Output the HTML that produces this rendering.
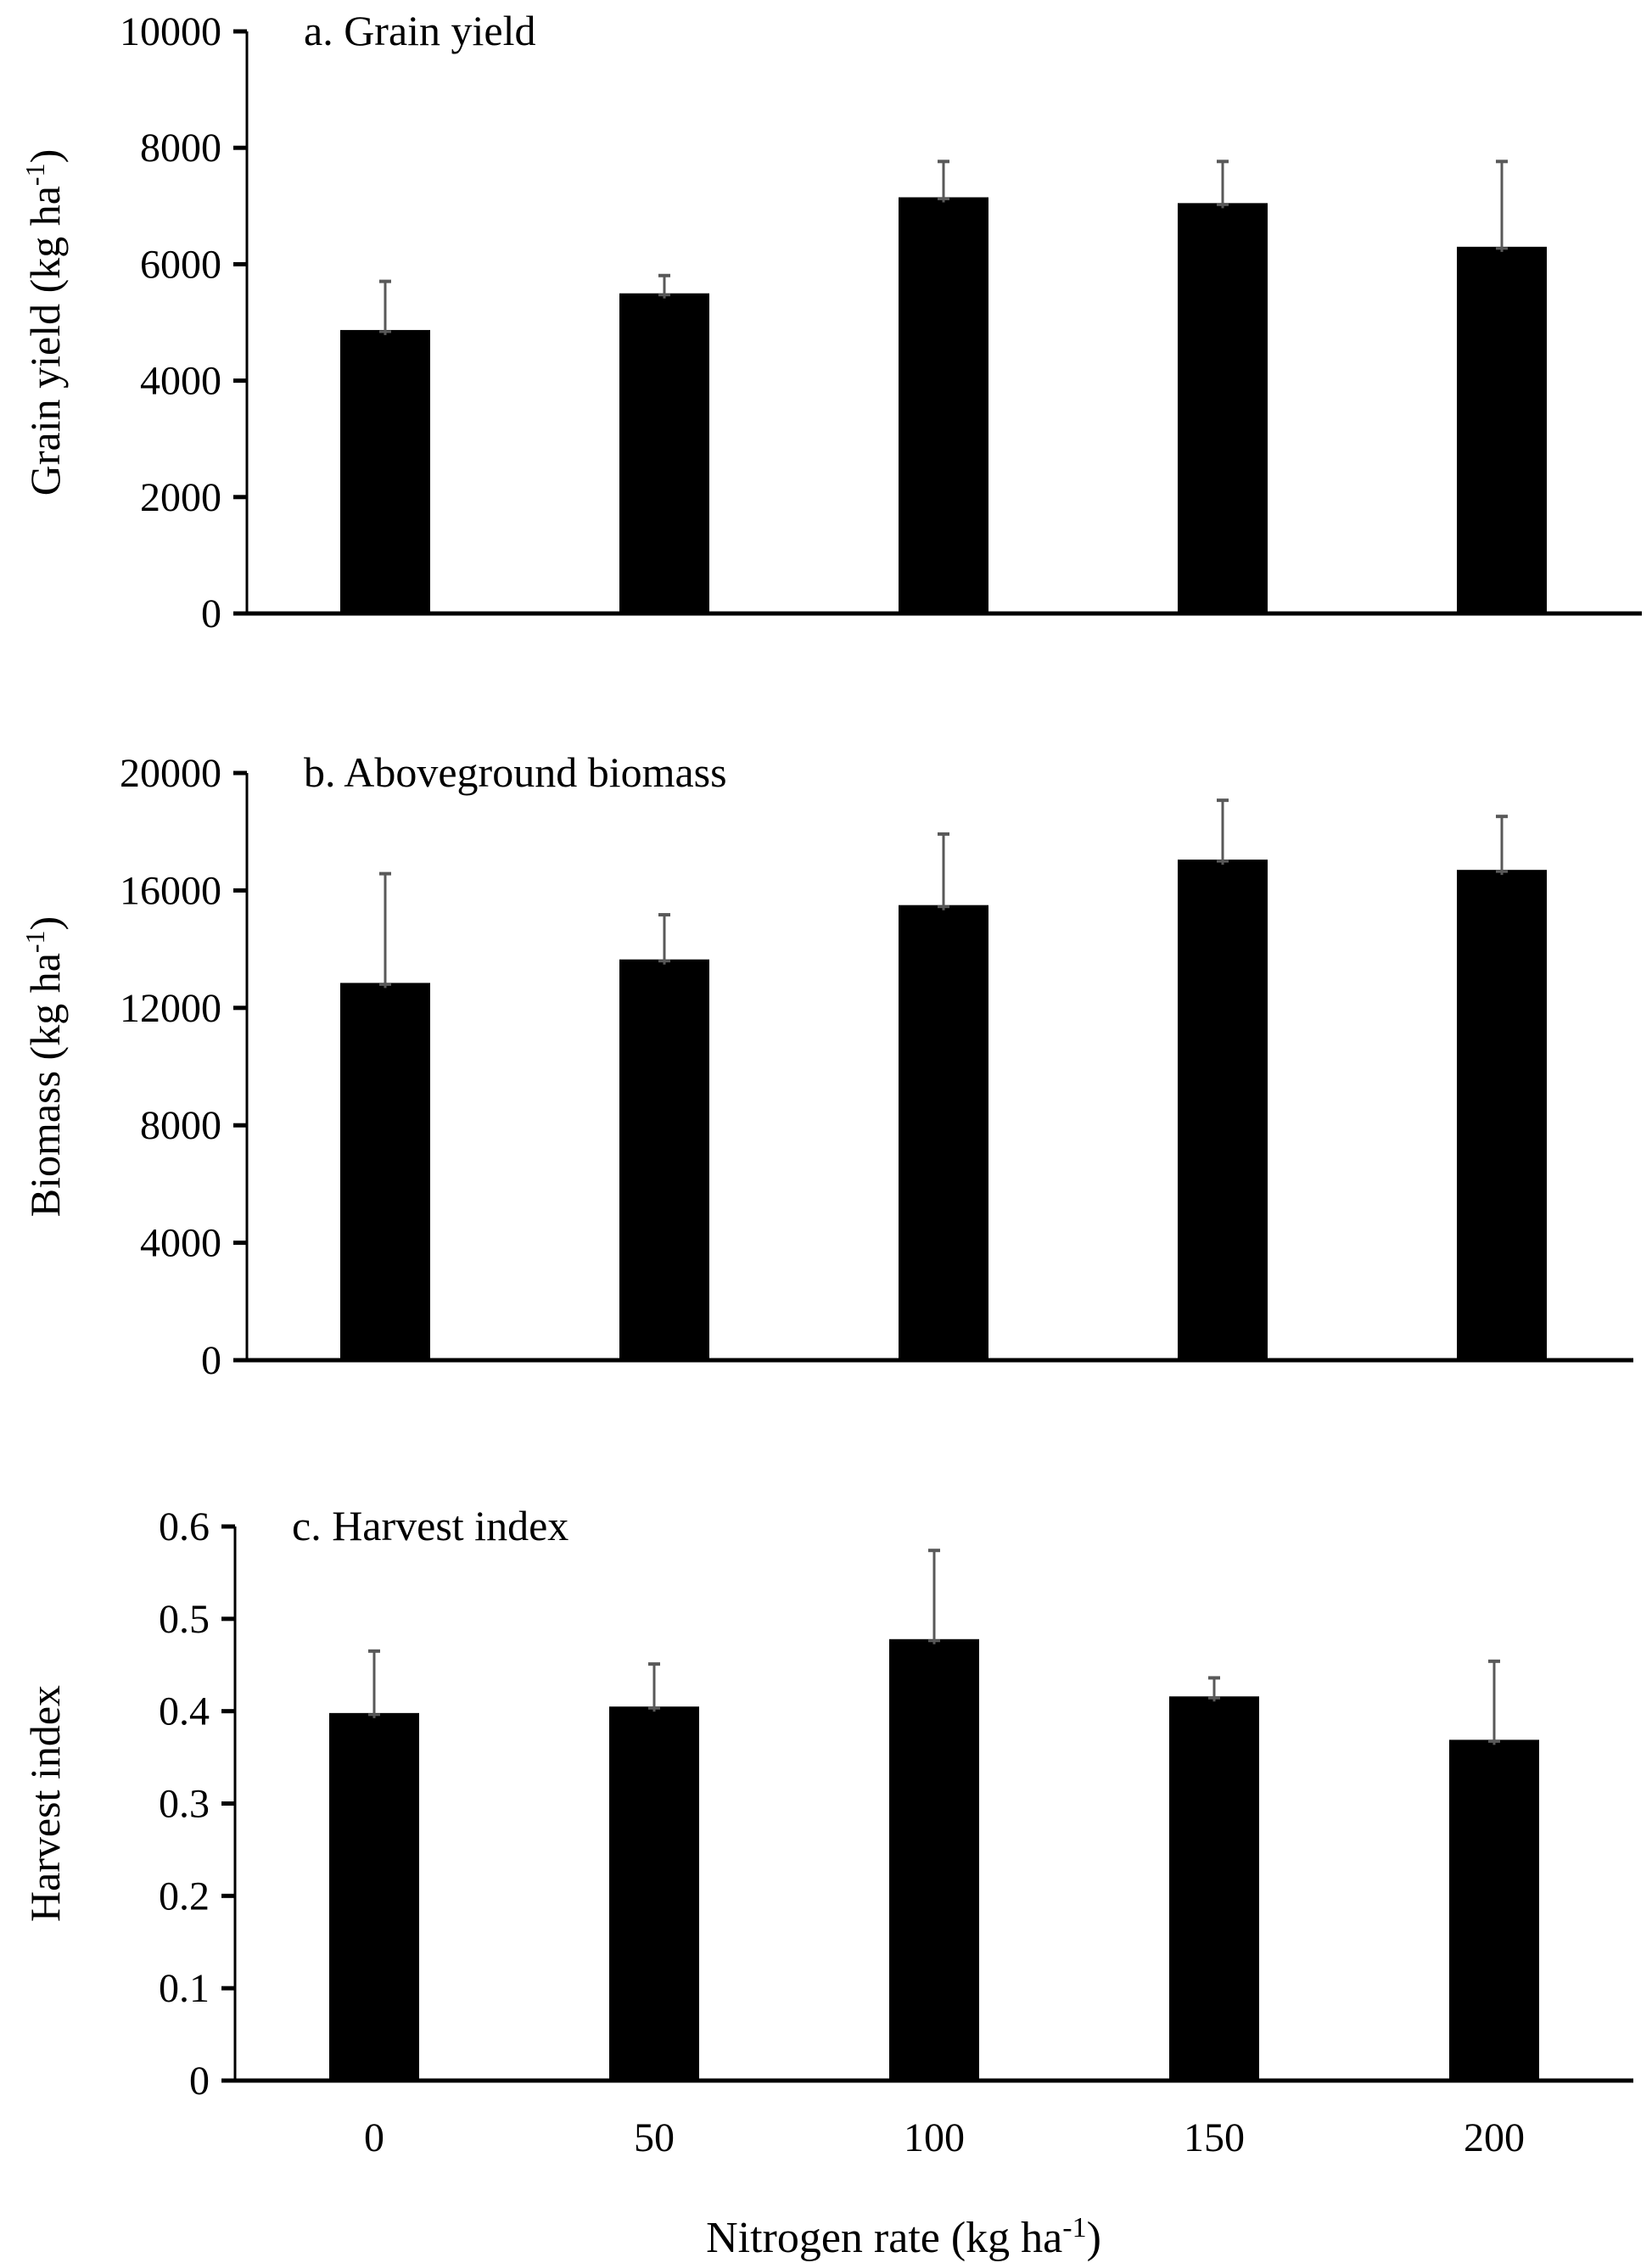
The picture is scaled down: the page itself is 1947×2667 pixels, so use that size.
<!DOCTYPE html>
<html><head><meta charset="utf-8"><style>
html,body{margin:0;padding:0;background:#fff}
svg{display:block}
text{font-family:"Liberation Serif",serif;fill:#000}
</style></head><body>
<svg id="chart" width="1947" height="2667" viewBox="0 0 1947 2667" xmlns="http://www.w3.org/2000/svg"></svg>
<script>
const categories = ["0","50","100","150","200"];
const grainValues = [4870, 5500, 7150, 7050, 6300];
const grainErrTop = [5720, 5820, 7780, 7780, 7780];
const grainTicks = [0, 2000, 4000, 6000, 8000, 10000];
const bioValues = [12850, 13650, 15500, 17050, 16700];
const bioErrTop = [16600, 15200, 17950, 19100, 18550];
const bioTicks = [0, 4000, 8000, 12000, 16000, 20000];
const hiValues = [0.398, 0.405, 0.478, 0.416, 0.369];
const hiErrTop = [0.466, 0.452, 0.575, 0.437, 0.455];
const hiTicks = [0, 0.1, 0.2, 0.3, 0.4, 0.5, 0.6];

const NS = "http://www.w3.org/2000/svg";
const svg = document.getElementById("chart");
function mk(tag, attrs, parent){
  const e = document.createElementNS(NS, tag);
  for (const k in attrs) e.setAttribute(k, attrs[k]);
  (parent||svg).appendChild(e);
  return e;
}
const panels = [
  {key:"grain", vals:grainValues, err:grainErrTop, ticks:grainTicks, max:10000, axisX:291, top:37, bottom:723, right:1935, x0:454, step:329, title:"a. Grain  yield", ytitle:"Grain  yield (kg ha", sup:true, tickFmt:v=>String(v)},
  {key:"biomass", vals:bioValues, err:bioErrTop, ticks:bioTicks, max:20000, axisX:291, top:911, bottom:1603, right:1925, x0:454, step:329, title:"b. Aboveground biomass", ytitle:"Biomass (kg ha", sup:true, tickFmt:v=>String(v)},
  {key:"harvest-index", vals:hiValues, err:hiErrTop, ticks:hiTicks, max:0.6, axisX:277, top:1799, bottom:2452, right:1925, x0:441, step:330, title:"c. Harvest index", ytitle:"Harvest index", sup:false, tickFmt:v=>v===0?"0":v.toFixed(1)}
];
panels.forEach(p=>{
  const g = mk("g", {});
  
  
  const y = v => p.bottom - (v / p.max) * (p.bottom - p.top);
  const x = i => p.x0 + i * p.step;
  const bw = 106;
  p.vals.forEach((v,i)=>{
    const r = mk("rect", {x:x(i)-bw/2, y:y(v), width:bw, height:p.bottom-y(v), fill:"#000"}, g);
    
    
    const e = mk("line", {x1:x(i), x2:x(i), y1:y(v)+6, y2:y(p.err[i]), stroke:"#595959", "stroke-width":3}, g);
    
    
    const c = mk("line", {x1:x(i)-7, x2:x(i)+7, y1:y(p.err[i])+1, y2:y(p.err[i])+1, stroke:"#595959", "stroke-width":4}, g);
    
    
    const c2 = mk("line", {x1:x(i)-7, x2:x(i)+7, y1:y(v)+2, y2:y(v)+2, stroke:"#595959", "stroke-width":3}, g);
    
    
  });
  const ya = mk("line", {x1:p.axisX, x2:p.axisX, y1:p.top, y2:p.bottom, stroke:"#000", "stroke-width":3}, g);
  
  
  const xa = mk("line", {x1:p.axisX-16, x2:p.right, y1:p.bottom, y2:p.bottom, stroke:"#000", "stroke-width":5}, g);
  
  
  p.ticks.forEach(t=>{
    const tk = mk("line", {x1:p.axisX-16, x2:p.axisX, y1:y(t), y2:y(t), stroke:"#000", "stroke-width":5}, g);
    
    
    const tl = mk("text", {x:p.axisX-30, y:y(t)+16, "text-anchor":"end", "font-size":48}, g);
    tl.textContent = p.tickFmt(t);
    
    
  });
  const tt = mk("text", {x:p.axisX+67, y:p.top+16, "font-size":50}, g);
  tt.textContent = p.title;
  
  
  const cy = (p.top + p.bottom)/2;
  const yt = mk("text", {x:0, y:0, "text-anchor":"middle", "font-size":50, transform:`translate(70,${cy}) rotate(-90)`}, g);
  yt.textContent = p.ytitle;
  if (p.sup){
    const s = mk("tspan", {dy:-18, "font-size":32}, yt); s.textContent = "-1";
    const s2 = mk("tspan", {dy:18}, yt); s2.textContent = ")";
  }
  
  
  if (p.key === "harvest-index"){
    categories.forEach((c,i)=>{
      const xl = mk("text", {x:x(i), y:2535, "text-anchor":"middle", "font-size":48}, g);
      xl.textContent = c;
      
      
    });
  }
});
const xt = mk("text", {x:1065, y:2654, "text-anchor":"middle", "font-size":52});
xt.textContent = "Nitrogen rate (kg ha";
const sp = mk("tspan", {dy:-18, "font-size":34}, xt); sp.textContent = "-1";
const sp2 = mk("tspan", {dy:18}, xt); sp2.textContent = ")";


</script>
</body></html>
